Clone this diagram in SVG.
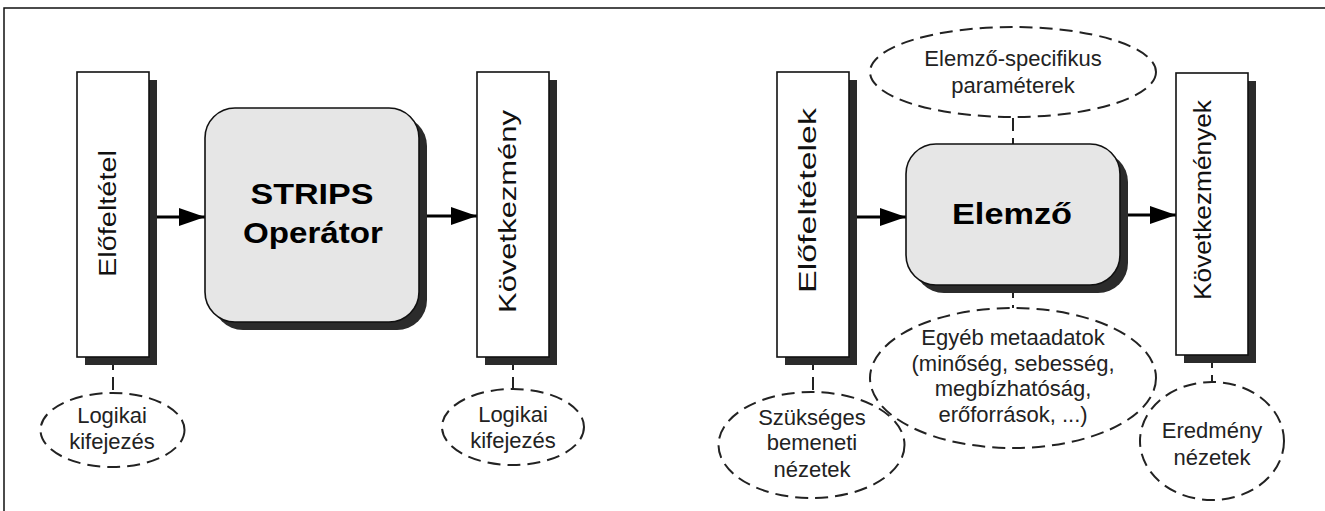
<svg xmlns="http://www.w3.org/2000/svg" width="1325" height="511" viewBox="0 0 1325 511">
<defs>
<style>
.frame{fill:none;stroke:#111;stroke-width:1.5}
.shadow{fill:#2b2b2b}
.bar{fill:#fff;stroke:#111;stroke-width:1.6}
.proc{fill:#e6e6e6;stroke:#111;stroke-width:1.6}
.note{fill:none;stroke:#222;stroke-width:2;stroke-dasharray:13 7}
.link{fill:none;stroke:#222;stroke-width:2;stroke-dasharray:13 7}
.arrow{fill:none;stroke:#000;stroke-width:3}
.vt{font-family:"Liberation Sans",Arial,sans-serif;font-size:23px;fill:#111;text-anchor:middle}
.bt{font-family:"Liberation Sans",Arial,sans-serif;font-size:30px;font-weight:bold;fill:#000;text-anchor:middle}
.nt{font-family:"Liberation Sans",Arial,sans-serif;font-size:22px;fill:#222;text-anchor:middle}
</style>
<marker id="ah" markerWidth="26" markerHeight="18" refX="26" refY="9" orient="auto" markerUnits="userSpaceOnUse"><path d="M0,0 L26,9 L0,18 Z" fill="#000"/></marker>
</defs>
<path class="frame" d="M4 511 V8 H1325"/>

<g id="connectors">
<line class="arrow" x1="149" y1="217" x2="205" y2="217" marker-end="url(#ah)"/>
<line class="arrow" x1="419" y1="216" x2="477" y2="216" marker-end="url(#ah)"/>
<line class="arrow" x1="849" y1="217" x2="906" y2="217" marker-end="url(#ah)"/>
<line class="arrow" x1="1120" y1="215" x2="1176" y2="215" marker-end="url(#ah)"/>
<path class="link" d="M113 357 V393"/>
<path class="link" d="M513 357 V389"/>
<path class="link" d="M1013 118 V144"/>
<path class="link" d="M1013 285 V308"/>
<path class="link" d="M813 357 V392"/>
<path class="link" d="M1212 355 V382"/>
</g>

<g id="elofeltetel">
<rect class="shadow" x="85" y="80" width="72" height="285"/>
<rect class="bar" x="77" y="72" width="72" height="285"/>
<text class="vt" transform="translate(116,213.5) rotate(-90)" textLength="127" lengthAdjust="spacingAndGlyphs">Előfeltétel</text>
</g>

<g id="strips">
<rect class="shadow" x="213" y="116" width="214" height="214" rx="30"/>
<rect class="proc" x="205" y="108" width="214" height="214" rx="30"/>
<text class="bt" x="312" y="204" textLength="123" lengthAdjust="spacingAndGlyphs">STRIPS</text>
<text class="bt" x="313" y="243" textLength="140" lengthAdjust="spacingAndGlyphs">Operátor</text>
</g>

<g id="kovetkezmeny">
<rect class="shadow" x="485" y="80" width="72" height="285"/>
<rect class="bar" x="477" y="72" width="72" height="285"/>
<text class="vt" transform="translate(516,211.5) rotate(-90)" textLength="203" lengthAdjust="spacingAndGlyphs">Következmény</text>
</g>

<g id="logikai1">
<ellipse class="note" cx="112.5" cy="430" rx="72" ry="37"/>
<text class="nt" x="112" y="423">Logikai</text>
<text class="nt" x="112" y="449">kifejezés</text>
</g>

<g id="logikai2">
<ellipse class="note" cx="513" cy="427" rx="71" ry="38"/>
<text class="nt" x="513" y="422">Logikai</text>
<text class="nt" x="513" y="448">kifejezés</text>
</g>

<g id="elofeltetelek">
<rect class="shadow" x="785" y="80" width="72" height="285"/>
<rect class="bar" x="777" y="72" width="72" height="285"/>
<text class="vt" transform="translate(816,200.5) rotate(-90)" textLength="185" lengthAdjust="spacingAndGlyphs">Előfeltételek</text>
</g>

<g id="elemzo">
<rect class="shadow" x="914" y="152" width="214" height="141" rx="30"/>
<rect class="proc" x="906" y="144" width="214" height="141" rx="30"/>
<text class="bt" x="1012" y="224" textLength="120" lengthAdjust="spacingAndGlyphs">Elemző</text>
</g>

<g id="kovetkezmenyek">
<rect class="shadow" x="1184" y="81" width="72" height="282"/>
<rect class="bar" x="1176" y="73" width="72" height="282"/>
<text class="vt" transform="translate(1211,200) rotate(-90)" textLength="200" lengthAdjust="spacingAndGlyphs">Következmények</text>
</g>

<g id="parameterek">
<ellipse class="note" cx="1013" cy="72" rx="143" ry="45"/>
<text class="nt" x="1013" y="66">Elemző-specifikus</text>
<text class="nt" x="1013" y="93">paraméterek</text>
</g>

<g id="metaadatok">
<ellipse class="note" cx="1013" cy="378" rx="143" ry="70"/>
<text class="nt" x="1013" y="345">Egyéb metaadatok</text>
<text class="nt" x="1013" y="370.5">(minőség, sebesség,</text>
<text class="nt" x="1013" y="396">megbízhatóság,</text>
<text class="nt" x="1013" y="421.5">erőforrások, ...)</text>
</g>

<g id="szukseges">
<ellipse class="note" cx="811.5" cy="445" rx="93" ry="53"/>
<text class="nt" x="812" y="425">Szükséges</text>
<text class="nt" x="812" y="450">bemeneti</text>
<text class="nt" x="812" y="477">nézetek</text>
</g>

<g id="eredmeny">
<ellipse class="note" cx="1212" cy="441" rx="72" ry="59"/>
<text class="nt" x="1212" y="438">Eredmény</text>
<text class="nt" x="1212" y="465">nézetek</text>
</g>
</svg>
